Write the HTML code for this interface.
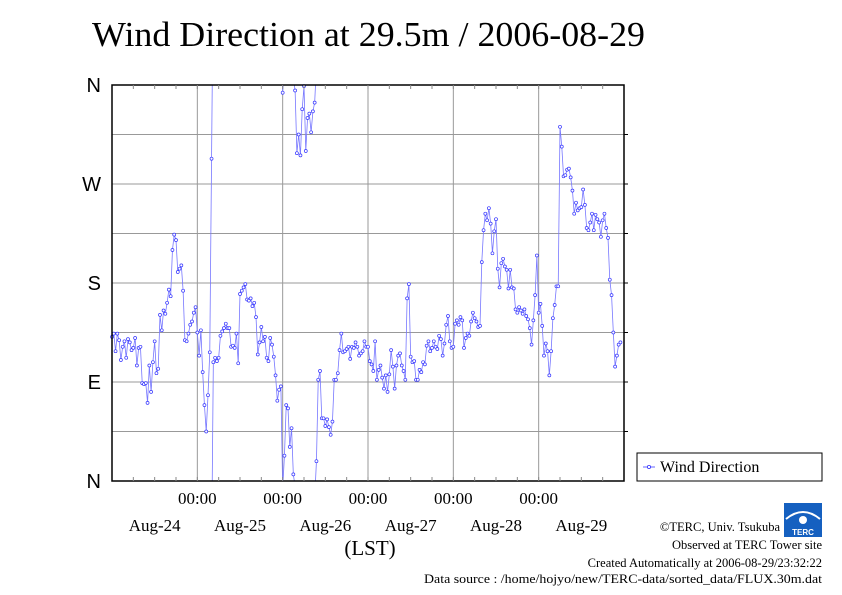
<!DOCTYPE html>
<html><head><meta charset="utf-8"><style>
body{margin:0;background:#fff;}
svg{display:block;}
.sf{font-family:"Liberation Serif",serif;}
.ss{font-family:"Liberation Sans",sans-serif;}
</style></head><body>
<svg id="chart" width="842" height="595" viewBox="0 0 842 595" xmlns="http://www.w3.org/2000/svg">
<rect width="842" height="595" fill="#fff"/>
<text x="92" y="46" class="sf" font-size="35" textLength="553" lengthAdjust="spacingAndGlyphs">Wind Direction at 29.5m / 2006-08-29</text>
<g id="grid"></g>
<g id="series"></g>
<rect x="112" y="85" width="512" height="396" fill="none" stroke="#000" stroke-width="1.5"/>
<g id="axes"></g>
<text x="370" y="555" class="sf" font-size="21" text-anchor="middle">(LST)</text>
<g>
<rect x="637" y="453" width="185" height="28" fill="#fff" stroke="#000" stroke-width="1"/>
<line x1="643" y1="467" x2="655" y2="467" stroke="#6666ff" stroke-width="1"/>
<circle cx="649" cy="467" r="1.6" fill="#fff" stroke="#3333ff" stroke-width="0.8"/>
<text x="660" y="472" class="sf" font-size="16">Wind Direction</text>
</g>
<g>
<rect x="784" y="503" width="38" height="34" fill="#1560c0"/>
<path d="M786 519 Q803 505 820 519" fill="none" stroke="#fff" stroke-width="2"/>
<circle cx="803" cy="520" r="4" fill="#fff"/>
<text x="803" y="535" class="ss" font-size="8" font-weight="bold" fill="#fff" text-anchor="middle">TERC</text>
</g>
<g class="sf" font-size="12.5" text-anchor="end">
<text x="780" y="531">©TERC, Univ. Tsukuba</text>
<text x="822" y="549">Observed at TERC Tower site</text>
<text x="822" y="567">Created Automatically at 2006-08-29/23:32:22</text>
<text x="822" y="583" textLength="398" lengthAdjust="spacingAndGlyphs">Data source : /home/hojyo/new/TERC-data/sorted_data/FLUX.30m.dat</text>
</g>
</svg>
<script>
const dayLabels = ["Aug-24","Aug-25","Aug-26","Aug-27","Aug-28","Aug-29"];
const yTickLabels = ["N","E","S","W","N"];
const yTickValues = [0,90,180,270,360];
const day1 = [131,134,118,134,128,110,122,127,112,129,126,119,121,130,105,121,122,89,88,89,71,105,81,108,127,98,102,151,137,155,152,162,174,168,210,224,219,190,193,196,173,128,127,134,142,145,153,158];
const day2 = [135,114,137,99,69,45,78,117,293,108,112,109,112,132,136,139,143,139,139,122,123,121,134,107,170,173,176,179,165,164,166,159,162,149,115,126,140,127,131,112,109,130,124,113,96,73,83,86];
const day3 = [353,23,69,66,31,48,6,355,298,315,296,338,359,300,330,334,317,336,344,18,92,100,57,57,50,56,49,42,54,92,92,98,119,134,117,118,120,122,111,122,121,126,122,114,116,118,127,122];
const day4 = [122,109,106,100,127,92,101,105,94,84,96,81,97,119,104,84,105,114,116,105,100,92,166,179,113,108,109,92,92,101,99,108,106,123,127,118,121,127,122,120,132,129,114,125,142,150,127,121];
const day5 = [122,143,146,142,149,146,121,130,134,132,145,153,148,145,140,141,199,228,243,237,248,234,207,227,238,193,176,198,202,195,192,175,192,176,175,156,153,158,155,152,156,150,147,139,124,146,169,205];
const day6 = [153,161,141,114,125,118,96,118,148,160,177,177,322,304,277,278,283,284,276,264,243,253,246,248,249,265,251,230,228,235,243,228,242,238,235,222,237,243,230,221,183,169,135,104,114,124,126];
const values = [].concat(day1,day2,day3,day4,day5,day6);
const X0=112, X1=624, Y0=481, Y1=85, HOURS=144;
function xScale(h){return X0 + (h/HOURS)*(X1-X0);}
function yScale(d){return Y0 - (d/360)*(Y0-Y1);}
const NS="http://www.w3.org/2000/svg";
function mk(tag,attrs,parent){const e=document.createElementNS(NS,tag);for(const k in attrs)e.setAttribute(k,attrs[k]);parent.appendChild(e);return e;}
const grid=document.getElementById('grid'), axes=document.getElementById('axes'), series=document.getElementById('series');
for(let d=45; d<360; d+=45){
  const l=mk('line',{x1:X0,x2:X1,y1:yScale(d),y2:yScale(d),stroke:'#999','stroke-width':1},grid);
  
  
  const t=mk('line',{x1:X1,x2:X1+4,y1:yScale(d),y2:yScale(d),stroke:'#000','stroke-width':1},axes);
  
  
}
for(let dd=1; dd<6; dd++){
  const x=xScale(dd*24);
  const l=mk('line',{x1:x,x2:x,y1:Y1,y2:Y0,stroke:'#999','stroke-width':1},grid);
  
  
}
for(let h=6; h<HOURS; h+=6){
  const x=xScale(h);
  const t1=mk('line',{x1:x,x2:x,y1:Y1,y2:Y1+4,stroke:'#888','stroke-width':1},axes);
  
  
  const t2=mk('line',{x1:x,x2:x,y1:Y0,y2:Y0-4,stroke:'#888','stroke-width':1},axes);
  
  
}
yTickLabels.forEach((lab,i)=>{
  const t=mk('text',{x:101,y:yScale(yTickValues[i])+7,'text-anchor':'end','font-size':20,class:'ss'},axes);
  t.textContent=lab;
  
  
});
dayLabels.forEach((lab,i)=>{
  if(i<5){
    const t=mk('text',{x:xScale((i+1)*24),y:504,'text-anchor':'middle','font-size':17,class:'sf'},axes);
    t.textContent='00:00';
    
    
  }
  const t2=mk('text',{x:xScale(i*24+12),y:531,'text-anchor':'middle','font-size':17,class:'sf'},axes);
  t2.textContent=lab;
  
  
});
let d='';
for(let i=0;i<values.length;i++){
  const x=xScale(i*0.5), y=yScale(values[i]);
  if(i===0){d+='M'+x+' '+y;continue;}
  const p=values[i-1], px=xScale((i-1)*0.5);
  if(Math.abs(values[i]-p)>180){
    const up = p>values[i];
    const a = up ? 360-p : p;
    const b = up ? values[i] : 360-values[i];
    const xm = px + (x-px)*a/(a+b);
    d+=' L'+xm+' '+(up?Y1:Y0)+' M'+xm+' '+(up?Y0:Y1)+' L'+x+' '+y;
  } else d+=' L'+x+' '+y;
}
const path=mk('path',{d:d,fill:'none',stroke:'#7777ff','stroke-width':0.8},series);


values.forEach((v,i)=>{
  const c=mk('circle',{cx:xScale(i*0.5),cy:yScale(v),r:1.5,fill:'#fff',stroke:'#3333ff','stroke-width':0.7},series);
  
  
});
</script>
</body></html>
